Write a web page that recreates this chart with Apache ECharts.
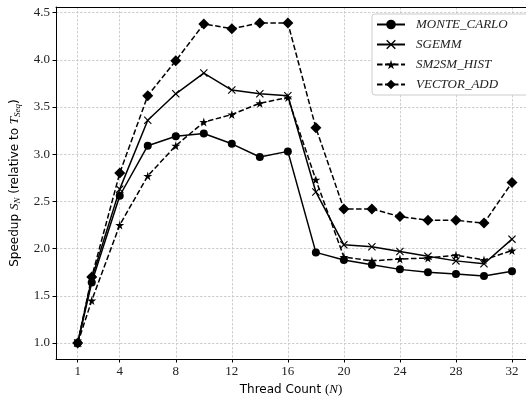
<!DOCTYPE html>
<html>
<head>
<meta charset="utf-8">
<script src="https://cdn.jsdelivr.net/npm/echarts@6/dist/echarts.min.js"></script>
<style>
html,body{margin:0;padding:0;background:#fff}
#chart{width:526px;height:401px}
</style>
</head>
<body>
<div id="chart"></div>
<script>
// thread counts (x) and speedups
const threads = [1, 2, 4, 6, 8, 10, 12, 14, 16, 18, 20, 22, 24, 26, 28, 30, 32];
const monteCarlo = [1.0, 1.64, 2.56, 3.09, 3.19, 3.22, 3.11, 2.97, 3.03, 1.96, 1.88, 1.83, 1.78, 1.75, 1.73, 1.71, 1.76];
const sgemm = [1.0, 1.68, 2.63, 3.36, 3.64, 3.86, 3.68, 3.64, 3.62, 2.60, 2.04, 2.02, 1.97, 1.92, 1.87, 1.84, 2.10];
const sm2smHist = [1.0, 1.45, 2.25, 2.77, 3.09, 3.34, 3.42, 3.54, 3.60, 2.73, 1.91, 1.87, 1.89, 1.90, 1.93, 1.88, 1.98];
const vectorAdd = [1.0, 1.70, 2.80, 3.62, 3.99, 4.38, 4.33, 4.39, 4.39, 3.28, 2.42, 2.42, 2.34, 2.30, 2.30, 2.27, 2.70];
const xTicks = [1, 4, 8, 12, 16, 20, 24, 28, 32];
const yTicks = [1.0, 1.5, 2.0, 2.5, 3.0, 3.5, 4.0, 4.5];

const STAR = 'path://M50,0 L61,35 L98,35 L68,57 L79,91 L50,70 L21,91 L32,57 L2,35 L39,35 Z';
const CROSS = 'path://M0,1 L1,0 L5,4 L9,0 L10,1 L6,5 L10,9 L9,10 L5,6 L1,10 L0,9 L4,5 Z';

function pairs(ys) {
  return threads.map((t, i) => [t, ys[i]]);
}

function mkSeries(name, ys, symbol, size, dashed) {
  return {
    name: name,
    type: 'line',
    data: pairs(ys),
    symbol: symbol,
    symbolSize: size,
    showAllSymbol: true,
    color: '#000',
    itemStyle: { color: '#000' },
    lineStyle: { color: '#000', width: 1.5, type: dashed ? [5.5, 2.5] : 'solid' },
    emphasis: { disabled: true },
    animation: false
  };
}

const chart = echarts.init(document.getElementById('chart'), null, { renderer: 'canvas' });

const serif = 'Liberation Serif';
const gridLine = { show: true, lineStyle: { color: '#c4c4c4', width: 0.8, type: [2.5, 1.5] } };

const option = {
  backgroundColor: '#fff',
  animation: false,
  grid: { left: 55, right: 0, top: 7, bottom: 42, containLabel: false },
  legend: {
    left: 372,
    top: 14,
    orient: 'vertical',
    itemWidth: 28,
    itemHeight: 12,
    itemGap: 7,
    padding: [4, 30, 4, 4],
    backgroundColor: '#fff',
    borderColor: '#cccccc',
    borderWidth: 1,
    borderRadius: 3,
    textStyle: { fontFamily: serif, fontStyle: 'italic', fontSize: 13, color: '#222', padding: [0, 0, 0, 6] },
    data: ['MONTE_CARLO', 'SGEMM', 'SM2SM_HIST', 'VECTOR_ADD']
  },
  xAxis: [{
    type: 'value',
    min: -0.55,
    max: 33.0,
    name: '{a|Thread Count }{b|(}{i|N}{b|)}',
    nameLocation: 'middle',
    nameGap: 21,
    nameTextStyle: {
      rich: {
        a: { fontFamily: 'DejaVu Sans', fontSize: 12, color: '#000' },
        b: { fontFamily: serif, fontSize: 13, color: '#000' },
        i: { fontFamily: serif, fontStyle: 'italic', fontSize: 13, color: '#000' }
      }
    },
    axisLine: { show: true, onZero: false, lineStyle: { color: '#000', width: 1 } },
    axisTick: { show: true, length: 3.5, customValues: xTicks, lineStyle: { color: '#000' } },
    axisLabel: { customValues: xTicks, fontFamily: serif, fontSize: 13, color: '#222', margin: 6 },
    splitLine: gridLine
  }, {
    type: 'value',
    position: 'top',
    min: -0.55,
    max: 33.0,
    axisLine: { show: true, onZero: false, lineStyle: { color: '#000', width: 1 } },
    axisTick: { show: false },
    axisLabel: { show: false },
    splitLine: { show: false }
  }],
  yAxis: {
    type: 'value',
    min: 0.8305,
    max: 4.5595,
    name: '{a|Speedup }{i|S}{s|N}{a| (relative to }{i|T}{s|Seq}{a|)}',
    nameLocation: 'middle',
    nameGap: 34,
    nameRotate: 90,
    nameTextStyle: {
      rich: {
        a: { fontFamily: 'DejaVu Sans', fontSize: 12, color: '#000' },
        i: { fontFamily: serif, fontStyle: 'italic', fontSize: 13, color: '#000' },
        s: { fontFamily: serif, fontStyle: 'italic', fontSize: 9, color: '#000', padding: [6, 0, 0, 0] }
      }
    },
    axisLine: { show: true, onZero: false, lineStyle: { color: '#000', width: 1 } },
    axisTick: { show: true, length: 3.5, customValues: yTicks, lineStyle: { color: '#000' } },
    axisLabel: {
      customValues: yTicks,
      fontFamily: serif, fontSize: 13, color: '#222', margin: 6,
      formatter: v => v.toFixed(1)
    },
    splitLine: gridLine
  },
  series: [
    mkSeries('MONTE_CARLO', monteCarlo, 'circle', 8, false),
    mkSeries('SGEMM', sgemm, CROSS, 8, false),
    mkSeries('SM2SM_HIST', sm2smHist, STAR, 9, true),
    mkSeries('VECTOR_ADD', vectorAdd, 'diamond', 11, true)
  ]
};

chart.setOption(option);
</script>
</body>
</html>
